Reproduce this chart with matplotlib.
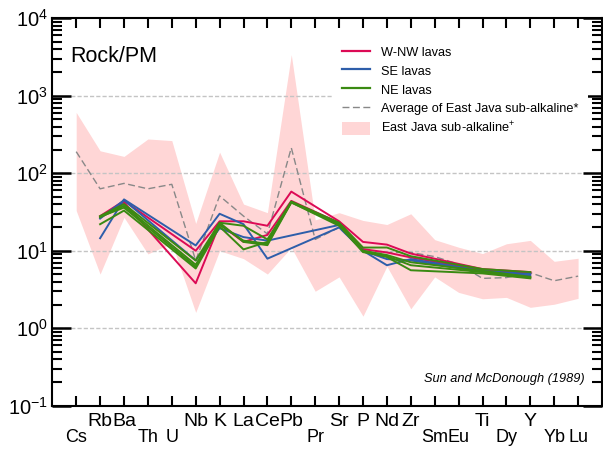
import numpy as np
import matplotlib
matplotlib.use("Agg")
from matplotlib import pyplot as plt
from matplotlib.patches import Patch
from matplotlib.lines import Line2D

plt.rcParams['font.family'] = ['Liberation Sans', 'DejaVu Sans']
plt.rcParams['mathtext.default'] = 'regular'

N = None
elements = ["Cs", "Rb", "Ba", "Th", "U", "Nb", "K", "La", "Ce", "Pb", "Pr",
            "Sr", "P", "Nd", "Zr", "Sm", "Eu", "Ti", "Dy", "Y", "Yb", "Lu"]
upper_row = ["Rb", "Ba", "Nb", "K", "La", "Ce", "Pb", "Sr", "P", "Nd", "Zr", "Ti", "Y"]

# East Java sub-alkaline range and average
ej_upper = [610, 195, 165, 277, 264, 22.5, 187, 40, 31, 3400, 25,
            31, 24.6, 21.8, 30, 13.9, 11.1, 9.2, 12.3, 13.6, 7.3, 8.0]
ej_lower = [33, 5.0, 27, 9.1, 12.5, 1.6, 10, 7.9, 5.0, 11, 3.0,
            4.6, 1.43, 6.3, 1.78, 4.6, 2.9, 2.4, 2.5, 1.86, 2.04, 2.43]
ej_avg = [190, 63, 74, 63, 72, 7.5, 51, 28, 16.5, 213, 14,
          20, 10, 9.5, 9.5, 8.4, 6.7, 4.4, 4.5, 5.2, 4.1, 4.7]

wnw_lavas = [
    [N, 28, 44, N, N, 10, 24, 24, 21, 58, N, 24, 13, 12, 9.2, N, N, 5.8, N, 5.3, N, N],
    [N, 27, 42, N, N, 3.8, 22, 13, 16, 44, N, 23, 10.5, 9.5, 8.2, N, N, 5.6, N, 5.2, N, N],
]
se_lavas = [
    [N, 14.5, 46, N, N, 11.7, 30, 22, 7.9, N, N, 20, 10, 6.5, 7.8, N, N, 5.5, N, 5.0, N, N],
    [N, 26, 45, N, N, 7.5, 19.5, 15, 13.5, N, N, 21.5, 10, 7.8, 7.5, N, N, 5.3, N, 4.8, N, N],
]
ne_lavas = [
    [N, 28, 40, N, N, 7.5, 23, 21, 14, 43, N, 23, 11, 11, 8.5, N, N, 5.8, N, 5.3, N, N],
    [N, 27, 38, N, N, 6.6, 21.6, 13.5, 12.3, 43, N, 22.5, 10, 8.8, 7.1, N, N, 5.5, N, 4.6, N, N],
    [N, 22, 33, N, N, 5.9, 20.5, 10.4, 13, 42, N, 22, 9.8, 8.3, 5.6, N, N, 5.1, N, 4.4, N, N],
    [N, 27.5, 36, N, N, 6.2, 23, 13, 11.8, 42, N, 21, 9.6, 8.5, 6.5, N, N, 5.3, N, 4.5, N, N],
]

c_wnw = "#dc0a55"
c_se = "#2e5eaa"
c_ne = "#3a8a12"
c_fill = "#ffd6d6"
c_avg = "#888888"

fig = plt.figure(figsize=(6.03, 4.5), dpi=100)
ax = fig.add_axes([52.3 / 603, 44.3 / 450, 549.7 / 603, 387.4 / 450])

x = np.arange(len(elements))
ax.fill_between(x, ej_lower, ej_upper, color=c_fill, lw=0, zorder=0)
for yv in [1, 10, 100, 1000]:
    ax.axhline(yv, color="#c4c4c4", lw=1, ls=(0, (3, 1.5)), zorder=1)
ax.plot(x, ej_avg, color=c_avg, lw=1, dashes=(5, 2.5), zorder=2)


def draw(samples, color):
    for s in samples:
        xs = [i for i, v in enumerate(s) if v is not None]
        ys = [v for v in s if v is not None]
        ax.plot(xs, ys, color=color, lw=1.4, zorder=3)


draw(wnw_lavas, c_wnw)
draw(se_lavas, c_se)
draw(ne_lavas, c_ne)

ax.set_yscale("log")
ax.set_ylim(0.1, 1e4)
ax.set_xlim(-1, 22)

ax.set_yticks([0.1, 1, 10, 100, 1000, 10000])
ax.set_yticklabels(["$10^{-1}$", "$10^{0}$", "$10^{1}$", "$10^{2}$", "$10^{3}$", "$10^{4}$"])
up_idx = [i for i, e in enumerate(elements) if e in upper_row]
lo_idx = [i for i, e in enumerate(elements) if e not in upper_row]
ax.set_xticks(up_idx)
ax.set_xticklabels([elements[i] for i in up_idx])
ax.set_xticks(lo_idx, minor=True)
ax.set_xticklabels([elements[i] for i in lo_idx], minor=True)

ax.tick_params(axis="x", which="both", direction="in", top=True, length=7, width=1.5, labelsize=14)
ax.tick_params(axis="x", which="major", pad=5)
ax.tick_params(axis="x", which="minor", pad=16.5, labelsize=13)
ax.tick_params(axis="y", which="major", direction="in", right=True, length=14, width=1.8, labelsize=14.5, pad=3)
ax.tick_params(axis="y", which="minor", direction="in", right=True, length=7, width=1.5)
for sp in ax.spines.values():
    sp.set_linewidth(1.5)

ax.text((70 - 52.3) / 549.7, 1 - (62.3 - 18.3) / 387.4, "Rock/PM", transform=ax.transAxes,
        fontsize=15.5, ha="left", va="baseline")
ax.text((585 - 52.3) / 549.7, (405.7 - 381.7) / 387.4, "Sun and McDonough (1989)",
        transform=ax.transAxes, fontsize=9.2, style="italic", ha="right", va="baseline")

handles = [
    Line2D([], [], color=c_wnw, lw=1.6),
    Line2D([], [], color=c_se, lw=1.6),
    Line2D([], [], color=c_ne, lw=1.6),
    Line2D([], [], color=c_avg, lw=1, dashes=(5, 2.5)),
    Patch(facecolor=c_fill, edgecolor="none"),
]
labels = ["W-NW lavas", "SE lavas", "NE lavas",
          "Average of East Java sub-alkaline*", "East Java sub-alkaline$^{+}$"]
leg = ax.legend(handles, labels, loc="upper left", bbox_to_anchor=(327 / 603, 1 - 30 / 450),
                bbox_transform=fig.transFigure, fontsize=9.2, frameon=True, fancybox=False,
                handlelength=2.2, handletextpad=0.85, labelspacing=0.42, borderpad=0.7,
                handleheight=1.1)
leg.get_frame().set_edgecolor("none")
leg.get_frame().set_facecolor("white")
leg.get_frame().set_alpha(1)

fig.savefig("out.png", dpi=100)
